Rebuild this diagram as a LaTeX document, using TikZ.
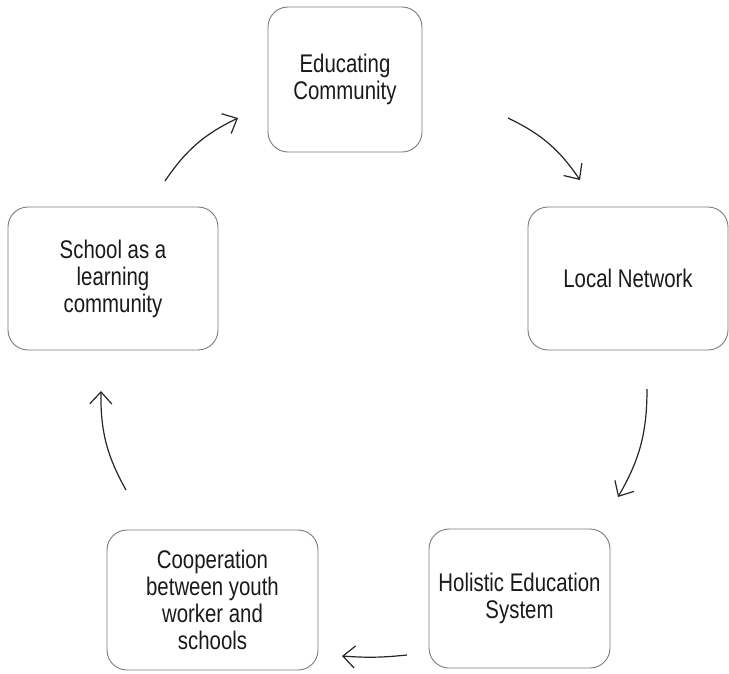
\documentclass[tikz,border=0pt]{standalone}
\usepackage{fontspec}
\setmainfont[FakeStretch=0.80]{Liberation Sans}
\usetikzlibrary{arrows.meta}
\definecolor{boxline}{HTML}{7A7A7A}
\definecolor{txt}{HTML}{1A1A1A}
\begin{document}
\begin{tikzpicture}[x=1pt,y=-1pt,
  cbox/.style={draw=boxline, line width=0.9pt, rounded corners=20pt, align=center,
    text=txt, font=\fontsize{25.5}{27}\selectfont, inner sep=0pt},
  cyc/.style={draw=black!85, line width=1.2pt,
    -{Straight Barb[length=12pt,width=22pt,line width=1.2pt]}}]
\useasboundingbox (0,0) rectangle (729,673);
\node[cbox, minimum width=154pt, minimum height=145pt] (edu) at (345,79.5) {Educating\\Community};
\node[cbox, minimum width=200pt, minimum height=143pt] (loc) at (628,278.5) {Local Network};
\node[cbox, minimum width=181pt, minimum height=139pt] (hol) at (519.5,598.5) {Holistic Education\\System};
\node[cbox, minimum width=211pt, minimum height=140pt] (coop) at (212.5,600) {Cooperation\\between youth\\worker and\\schools};
\node[cbox, minimum width=210pt, minimum height=143pt] (sch) at (113,278.5) {School as a\\learning\\community};
\coordinate (a1s) at (165,181);
\coordinate (a1e) at (238,118);
\coordinate (a2s) at (508,118);
\coordinate (a2e) at (580,180);
\coordinate (a3s) at (647,389);
\coordinate (a3e) at (618,497);
\coordinate (a4s) at (407,655);
\coordinate (a4e) at (342,656);
\coordinate (a5s) at (126,490);
\coordinate (a5e) at (101,391);
\draw[cyc] (a1s) to[bend left=15] (a1e);
\draw[cyc] (a2s) to[bend left=15] (a2e);
\draw[cyc] (a3s) to[bend left=15] (a3e);
\draw[cyc] (a4s) to[bend left=5] (a4e);
\draw[cyc] (a5s) to[bend left=15] (a5e);
\end{tikzpicture}
\end{document}
